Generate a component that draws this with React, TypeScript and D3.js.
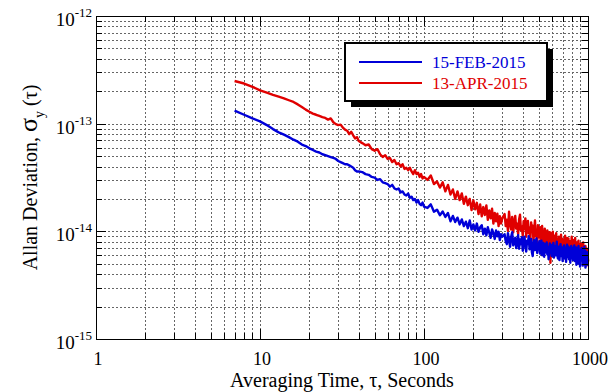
import React, { useRef, useEffect } from 'react';
import * as d3 from 'd3';

// averaging times (s)
const tau = [
  7, 8, 9, 10, 11, 12, 13, 14, 15, 16, 17, 18, 19, 20, 21, 22, 23, 24, 25, 26, 27, 28, 29, 30, 31, 32, 33, 34, 35, 36, 37, 38, 39, 40,
  42, 44, 46, 48, 50, 52, 54, 56, 58, 60, 62, 64, 66, 68, 70, 72, 74, 76, 78, 80, 82, 84, 86, 88, 90, 92, 94, 96, 98, 100,
  105, 110, 115, 120, 125, 130, 135, 140, 145, 150, 155, 160, 165, 170, 175, 180, 185, 190, 195, 200,
  205, 210, 215, 220, 225, 230, 235, 240, 245, 250, 255, 260, 265, 270, 275, 280, 285, 290, 295, 300,
  310, 315, 320, 325, 330, 335, 340, 345, 350, 355, 360, 365, 370, 375, 380, 385, 390, 395, 400, 405,
  410, 415, 420, 425, 430, 435, 440, 445, 450, 455, 460, 465, 470, 475, 480, 485, 490, 495, 500, 505,
  510, 515, 520, 525, 530, 535, 540, 545, 550, 555, 560, 565, 570, 575, 580, 585, 590, 595, 600, 605,
  610, 615, 620, 625, 630, 635, 640, 645, 650, 655, 660, 665, 670, 675, 680, 685, 690, 695, 700, 705,
  710, 715, 720, 725, 730, 735, 740, 745, 750, 755, 760, 765, 770, 775, 780, 785, 790, 795, 800, 805,
  810, 815, 820, 825, 830, 835, 840, 845, 850, 855, 860, 865, 870, 875, 880, 885, 890, 895, 900, 905,
  910, 915, 920, 925, 930, 935, 940, 945, 950, 955, 960, 965, 970, 975, 980, 985, 990, 995, 1000,
];

// Allan deviation, units of 1e-15
const feb2015 = [
  132, 121, 112, 105, 97, 89, 83, 79, 75, 71, 68, 64, 62, 59, 57, 55, 54, 52, 51, 50, 49, 48, 47, 45, 44, 43, 42, 42, 41, 40, 39, 37, 36, 36,
  35.5, 34, 33.5, 32, 31.5, 30, 30.5, 28.5, 28, 27.5, 26, 27, 25, 24.5, 25, 23, 23.5, 22, 21.5, 22.5, 20.5, 21, 19.5, 20, 18.5, 19.5, 18, 17.5, 18.5, 17,
  16.5, 17.8, 15.2, 15.9, 14.1, 15.3, 13.6, 14.8, 12.4, 13.9, 12.2, 13.4, 11.6, 12.9, 11.2, 12.3, 10.7, 12.6, 10.4, 11.6,
  10.2, 11.8, 9.9, 10.9, 11.4, 9.4, 10.6, 9.2, 10.9, 9.7, 8.7, 10.4, 9.6, 8.5, 10.2, 9.0, 9.9, 8.3, 9.4, 8.9,
  9.4, 8.1, 7.6, 9.6, 8.3, 7.2, 8.9, 9.8, 7.4, 8.0, 8.7, 7.0, 7.9, 9.2, 6.9, 8.4, 7.6, 8.8, 6.6, 7.8,
  8.9, 7.3, 6.5, 8.2, 7.7, 9.0, 6.8, 7.4, 8.5, 6.4, 5.9, 7.8, 8.3, 6.7, 7.2, 8.6, 6.3, 7.5, 6.9, 8.1,
  6.2, 7.4, 8.2, 6.0, 7.0, 7.8, 5.8, 6.9, 7.6, 6.4, 7.9, 6.1, 7.2, 5.5, 6.8, 7.7, 6.3, 7.1, 5.9, 7.5,
  6.6, 7.8, 5.7, 6.9, 7.3, 6.0, 6.5, 8.0, 6.2, 5.6, 7.2, 6.4, 5.4, 6.8, 7.6, 5.9, 6.6, 7.1, 5.3, 6.9,
  6.1, 7.4, 5.6, 6.5, 7.0, 5.2, 6.7, 7.5, 5.8, 6.3, 7.2, 5.5, 6.4, 6.9, 5.1, 6.6, 7.3, 5.7, 6.2, 7.0,
  5.4, 6.8, 6.0, 7.4, 5.3, 6.5, 5.8, 7.1, 4.9, 6.4, 6.9, 5.6, 6.2, 7.3, 5.0, 6.6, 5.9, 4.7, 6.8, 6.1,
  5.4, 7.0, 5.8, 6.3, 4.8, 6.7, 5.5, 6.0, 7.2, 5.2, 6.1, 4.6, 6.5, 5.7, 5.1, 6.4, 4.9, 5.8, 5.3,
];

const apr2015 = [
  249, 236, 220, 204, 194, 185, 178, 172, 165, 159, 151, 143, 135, 129, 124, 121, 118, 115, 113, 109, 112, 103, 99, 97, 98, 92, 88, 86, 80, 84, 78, 73, 75, 69,
  66, 63, 64, 58, 56, 58, 52, 49, 51, 47, 48, 44, 46, 42, 43, 40, 42, 38, 39, 37, 39, 36, 34, 37, 34, 35, 32, 34, 31, 32,
  30, 33, 27.5, 29, 25.5, 28.5, 23.5, 27, 22, 24.5, 20, 23.5, 19.5, 22.5, 18, 21, 17.5, 20, 15.8, 19.4,
  16, 18.4, 14.5, 17.8, 13.8, 16.8, 14.2, 17.4, 12.8, 15.6, 13.2, 16.2, 11.8, 14.8, 12.4, 14.6, 11.2, 13.8, 11.8, 13.2,
  14.5, 11.2, 12.8, 10.1, 15.2, 11.6, 10.4, 13.6, 9.8, 12.2, 13.9, 10.6, 11.8, 9.4, 12.9, 14.3, 10.2, 11.1, 9.1, 12.4,
  10.5, 13.2, 8.9, 11.6, 12.5, 9.6, 10.8, 8.4, 12.1, 9.9, 11.3, 8.2, 10.4, 12.6, 9.0, 10.1, 7.7, 11.4, 8.8, 9.7,
  10.9, 7.6, 9.3, 11.2, 8.1, 9.9, 7.3, 10.6, 8.6, 9.1, 7.0, 10.2, 8.4, 9.5, 6.5, 9.8, 5.1, 8.7, 9.6, 7.2,
  9.9, 7.8, 6.6, 9.1, 8.0, 7.1, 9.6, 6.4, 8.6, 7.5, 6.3, 8.9, 7.4, 8.2, 6.8, 9.3, 6.1, 7.8, 8.5, 6.6,
  8.3, 6.5, 7.6, 9.1, 5.9, 7.9, 6.9, 8.7, 6.2, 7.4, 8.6, 6.0, 7.2, 8.1, 5.6, 7.7, 6.5, 8.9, 5.8, 7.1,
  8.3, 6.2, 5.5, 7.5, 6.8, 8.7, 5.4, 7.0, 6.4, 7.9, 5.7, 7.3, 6.6, 8.2, 5.2, 6.9, 7.6, 5.8, 6.3, 7.7,
  5.5, 6.8, 7.4, 5.3, 6.5, 7.9, 5.9, 6.2, 4.9, 7.1, 6.0, 7.3, 5.4, 6.6, 4.8, 6.9, 5.6, 6.3, 5.2,
];

const seriesNames = ['15-FEB-2015', '13-APR-2015'];
const seriesColors = ['#0000d8', '#e00000'];

const xMajor = [1, 10, 100, 1000];
const xMajorLabels = ['1', '10', '100', '1000'];
const yMajor = [1e-15, 1e-14, 1e-13, 1e-12];
const yMajorExp = ['-15', '-14', '-13', '-12'];

const font = '"Liberation Serif", "Times New Roman", serif';

function isMajor(v: number) {
  const l = Math.log10(v);
  return Math.abs(l - Math.round(l)) < 1e-6;
}

export default function App() {
  const svgRef = useRef<SVGSVGElement>(null);

  useEffect(() => {
    const left = 96, right = 588, top = 16, bottom = 339;
    const x = d3.scaleLog().domain([1, 1000]).range([left, right]);
    const y = d3.scaleLog().domain([1e-15, 1e-12]).range([bottom, top]);

    const svg = d3.select(svgRef.current);
    svg.selectAll('*').remove();

    const px = (v: number) => Math.round(v) + 0.5;

    // dotted grid
    const grid = svg.append('g')
      .attr('stroke', '#666')
      .attr('stroke-width', 1)
      .attr('stroke-dasharray', '2,2');
    x.ticks().forEach(t => {
      grid.append('line')
        .attr('x1', px(x(t))).attr('x2', px(x(t)))
        .attr('y1', top).attr('y2', bottom);
    });
    y.ticks().forEach(t => {
      grid.append('line')
        .attr('x1', left).attr('x2', right)
        .attr('y1', px(y(t))).attr('y2', px(y(t)));
    });

    // data, red underneath blue
    const n = Math.min(tau.length, feb2015.length, apr2015.length);
    const line = d3.line<number>()
      .x((_, i) => x(tau[i]))
      .y(d => y(d * 1e-15));
    [apr2015, feb2015].forEach((s, k) => {
      svg.append('path')
        .datum(s.slice(0, n))
        .attr('fill', 'none')
        .attr('stroke', k === 0 ? seriesColors[1] : seriesColors[0])
        .attr('stroke-width', 2.4)
        .attr('stroke-linejoin', 'round')
        .attr('d', line);
    });

    // frame + inward ticks on all four sides
    svg.append('rect')
      .attr('x', px(left)).attr('y', px(top))
      .attr('width', Math.round(right - left)).attr('height', Math.round(bottom - top))
      .attr('fill', 'none').attr('stroke', '#000').attr('stroke-width', 1);

    const ticks = svg.append('g').attr('stroke', '#000').attr('stroke-width', 1);
    x.ticks().forEach(t => {
      const len = isMajor(t) ? 10 : 6;
      const xx = px(x(t));
      ticks.append('line').attr('x1', xx).attr('x2', xx).attr('y1', bottom).attr('y2', bottom - len);
      ticks.append('line').attr('x1', xx).attr('x2', xx).attr('y1', top).attr('y2', top + len);
    });
    y.ticks().forEach(t => {
      const len = isMajor(t) ? 10 : 6;
      const yy = px(y(t));
      ticks.append('line').attr('x1', left).attr('x2', left + len).attr('y1', yy).attr('y2', yy);
      ticks.append('line').attr('x1', right).attr('x2', right - len).attr('y1', yy).attr('y2', yy);
    });

    // x tick labels
    svg.append('g')
      .selectAll('text')
      .data(xMajor)
      .join('text')
      .attr('x', d => x(d) + 2)
      .attr('y', 365)
      .attr('text-anchor', 'middle')
      .attr('font-family', font)
      .attr('font-size', 18)
      .text((_, i) => xMajorLabels[i]);

    // y tick labels 10^n
    yMajor.forEach((v, i) => {
      const t = svg.append('text')
        .attr('x', 92)
        .attr('y', y(v) + 10)
        .attr('text-anchor', 'end')
        .attr('font-family', font)
        .attr('font-size', 19);
      t.append('tspan').text('10');
      t.append('tspan').attr('font-size', 13).attr('dy', -9).text(yMajorExp[i]);
    });

    // axis titles
    svg.append('text')
      .attr('x', (left + right) / 2)
      .attr('y', 387)
      .attr('text-anchor', 'middle')
      .attr('font-family', font)
      .attr('font-size', 20)
      .text('Averaging Time, τ, Seconds');

    const yt = svg.append('text')
      .attr('transform', `translate(37,${(top + bottom) / 2}) rotate(-90)`)
      .attr('text-anchor', 'middle')
      .attr('font-family', font)
      .attr('font-size', 20);
    yt.append('tspan').text('Allan Deviation, ');
    yt.append('tspan').attr('font-size', 26).text('σ');
    yt.append('tspan').attr('font-size', 14).attr('dy', 7).text('y');
    yt.append('tspan').attr('dy', -7).text(' (τ)');

    // legend with drop shadow
    const lg = svg.append('g').attr('transform', 'translate(345,43)');
    lg.append('rect').attr('x', 6).attr('y', 6).attr('width', 202).attr('height', 58).attr('fill', '#000');
    lg.append('rect').attr('width', 202).attr('height', 58)
      .attr('fill', '#fff').attr('stroke', '#000').attr('stroke-width', 2);
    seriesNames.forEach((name, i) => {
      const yy = 19 + i * 21;
      lg.append('line')
        .attr('x1', 14).attr('x2', 77).attr('y1', yy).attr('y2', yy)
        .attr('stroke', seriesColors[i]).attr('stroke-width', 2);
      lg.append('text')
        .attr('x', 87).attr('y', yy + 6)
        .attr('font-family', font).attr('font-size', 17)
        .attr('fill', seriesColors[i])
        .text(name);
    });
  }, []);

  return (
    <svg
      ref={svgRef}
      width={614}
      height={392}
      style={{ position: 'absolute', left: 0, top: 0, background: '#fff' }}
    />
  );
}
